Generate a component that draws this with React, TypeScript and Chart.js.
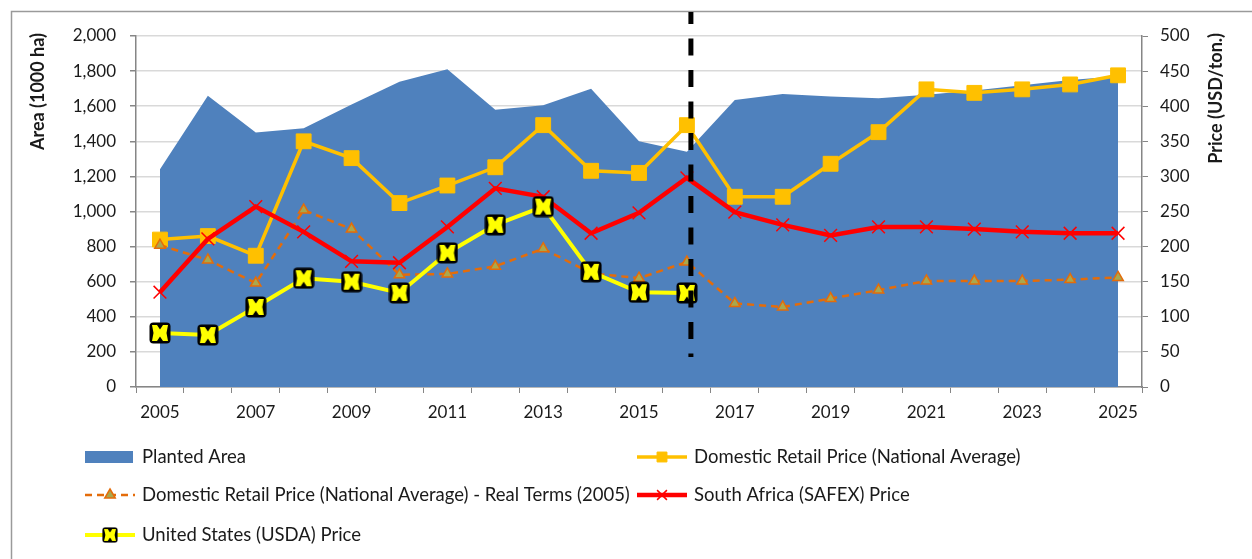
import React, { useEffect, useRef } from "react";
import { Chart, registerables } from "chart.js";

Chart.register(...registerables);

const years = [
  "2005", "2006", "2007", "2008", "2009", "2010", "2011", "2012", "2013", "2014",
  "2015", "2016", "2017", "2018", "2019", "2020", "2021", "2022", "2023", "2024", "2025",
];
const plantedArea = [1240, 1660, 1450, 1475, 1610, 1740, 1810, 1580, 1605, 1700, 1400, 1340, 1635, 1670, 1655, 1645, 1665, 1690, 1720, 1750, 1770];
const domesticRetail = [210, 215, 187, 350, 326, 262, 287, 313, 373, 308, 305, 373, 271, 271, 318, 363, 424, 419, 424, 431, 444];
const realTerms = [202, 181, 148, 252, 225, 160, 161, 172, 197, 162, 155, 178, 119, 114, 126, 138, 151, 151, 151, 153, 156];
const safex = [135, 211, 257, 221, 179, 177, 228, 283, 271, 219, 248, 298, 249, 231, 216, 228, 228, 225, 221, 219, 219];
const usda = [77, 74, 114, 155, 150, 134, 191, 231, 257, 164, 135, 134, null, null, null, null, null, null, null, null, null];
const dividerYear = "2016";

const FONT = "Lato, 'Open Sans', sans-serif";
const TEXT = "#1a1a1a";
const AXIS = "#868686";
const GRID = "#D9D9D9";

function makeUsdaMarker(): HTMLCanvasElement {
  const c = document.createElement("canvas");
  c.width = 22;
  c.height = 22;
  const g = c.getContext("2d")!;
  g.fillStyle = "#000";
  g.beginPath();
  (g as any).roundRect(0.5, 0.5, 21, 21, 4);
  g.fill();
  g.fillStyle = "#FFFF00";
  g.beginPath();
  g.moveTo(3, 3);
  g.lineTo(8, 3);
  g.lineTo(11, 7.5);
  g.lineTo(14, 3);
  g.lineTo(19, 3);
  g.lineTo(17.5, 11);
  g.lineTo(19, 19);
  g.lineTo(14, 19);
  g.lineTo(11, 14.5);
  g.lineTo(8, 19);
  g.lineTo(3, 19);
  g.lineTo(4.5, 11);
  g.closePath();
  g.fill();
  return c;
}

function drawMarker(ctx: CanvasRenderingContext2D, style: string, x: number, y: number, r: number) {
  ctx.beginPath();
  if (style === "rect") {
    const s = Math.SQRT1_2 * r;
    ctx.rect(x - s, y - s, 2 * s, 2 * s);
    ctx.fill();
    ctx.stroke();
  } else if (style === "triangle") {
    ctx.moveTo(x, y - r);
    ctx.lineTo(x + r * 0.87, y + r * 0.5);
    ctx.lineTo(x - r * 0.87, y + r * 0.5);
    ctx.closePath();
    ctx.fill();
    ctx.stroke();
  } else if (style === "crossRot") {
    const s = r * 0.7;
    ctx.moveTo(x - s, y - s);
    ctx.lineTo(x + s, y + s);
    ctx.moveTo(x + s, y - s);
    ctx.lineTo(x - s, y + s);
    ctx.stroke();
  }
}

export default function App() {
  const ref = useRef<HTMLCanvasElement | null>(null);

  useEffect(() => {
    document.body.style.margin = "0";
    const usdaMarker = makeUsdaMarker();

    const decorations = {
      id: "decorations",
      afterDraw(chart: any) {
        const ctx = chart.ctx as CanvasRenderingContext2D;
        const area = chart.chartArea;
        const xs = chart.scales.x;
        ctx.save();
        // outer frame
        ctx.strokeStyle = "#9a9a9a";
        ctx.lineWidth = 1.5;
        ctx.beginPath();
        ctx.moveTo(11.5, chart.height + 5);
        ctx.lineTo(11.5, 11.5);
        ctx.lineTo(chart.width + 5, 11.5);
        ctx.stroke();

        // divider dashed line
        const dx = xs.getPixelForValue(years.indexOf(dividerYear)) + 4;
        ctx.save();
        ctx.beginPath();
        ctx.rect(0, 12, chart.width, chart.height);
        ctx.clip();
        ctx.strokeStyle = "#000";
        ctx.lineWidth = 5;
        ctx.setLineDash([17, 14.5]);
        ctx.lineDashOffset = 5;
        ctx.beginPath();
        ctx.moveTo(dx, 12);
        ctx.lineTo(dx, area.bottom - 30);
        ctx.stroke();
        ctx.restore();

        // axis titles
        ctx.fillStyle = TEXT;
        ctx.font = `bold 18px ${FONT}`;
        ctx.textBaseline = "middle";
        ctx.textAlign = "right";
        ctx.save();
        ctx.translate(38, area.top - 3);
        ctx.rotate(-Math.PI / 2);
        ctx.fillText("Area (1000 ha)", 0, 0);
        ctx.restore();
        ctx.save();
        ctx.translate(1216, area.top - 3);
        ctx.rotate(-Math.PI / 2);
        ctx.fillText("Price (USD/ton.)", 0, 0);
        ctx.restore();

        // legend
        const cols = [85, 637];
        const rows = [457, 495, 535];
        const slots = [
          [0, 0],
          [1, 0],
          [0, 1],
          [1, 1],
          [0, 2],
        ];
        const symW = 50;
        chart.data.datasets.forEach((ds: any, i: number) => {
          const [c, r] = slots[i];
          const x0 = cols[c];
          const y = rows[r];
          const mid = x0 + symW / 2;
          if (ds.fill) {
            ctx.fillStyle = ds.backgroundColor;
            ctx.fillRect(x0, y - 6, symW - 2, 12);
          } else {
            ctx.save();
            ctx.strokeStyle = ds.borderColor;
            ctx.lineWidth = ds.borderWidth;
            ctx.setLineDash(ds.borderDash || []);
            ctx.beginPath();
            ctx.moveTo(x0, y);
            ctx.lineTo(x0 + symW, y);
            ctx.stroke();
            ctx.restore();
            const style = ds.pointStyle;
            if (style instanceof HTMLCanvasElement) {
              ctx.drawImage(style, mid - 8, y - 8, 16, 16);
            } else {
              ctx.save();
              ctx.fillStyle = ds.pointBackgroundColor;
              ctx.strokeStyle = ds.pointBorderColor;
              ctx.lineWidth = ds.pointBorderWidth;
              drawMarker(ctx, style, mid, y, Math.min(ds.pointRadius, 7));
              ctx.restore();
            }
          }
          ctx.fillStyle = TEXT;
          ctx.font = `18.5px ${FONT}`;
          ctx.textAlign = "left";
          ctx.textBaseline = "middle";
          ctx.fillText(ds.label, x0 + symW + 7, y);
        });
        ctx.restore();
      },
    };

    const chart = new Chart(ref.current!, {
      type: "line",
      data: {
        labels: years,
        datasets: [
          {
            label: "Planted Area",
            data: plantedArea,
            yAxisID: "y",
            fill: "origin",
            backgroundColor: "#4F81BD",
            borderColor: "#4F81BD",
            borderWidth: 0,
            pointRadius: 0,
            tension: 0,
            order: 5,
          } as any,
          {
            label: "Domestic Retail Price (National Average)",
            data: domesticRetail,
            yAxisID: "y1",
            fill: false,
            borderColor: "#FFC000",
            backgroundColor: "#FFC000",
            borderWidth: 3.5,
            pointStyle: "rect",
            pointRadius: 10.5,
            pointBackgroundColor: "#FFC000",
            pointBorderColor: "#FFC000",
            pointBorderWidth: 1,
            order: 4,
          },
          {
            label: "Domestic Retail Price (National Average) - Real Terms (2005)",
            data: realTerms,
            yAxisID: "y1",
            fill: false,
            borderColor: "#E46C0A",
            backgroundColor: "#E46C0A",
            borderWidth: 2.5,
            borderDash: [7, 5],
            pointStyle: "triangle",
            pointRadius: 6,
            pointBackgroundColor: "#A9A84E",
            pointBorderColor: "#E46C0A",
            pointBorderWidth: 1.5,
            order: 3,
          },
          {
            label: "South Africa (SAFEX) Price",
            data: safex,
            yAxisID: "y1",
            fill: false,
            borderColor: "#FF0000",
            backgroundColor: "#FF0000",
            borderWidth: 4.5,
            pointStyle: "crossRot",
            pointRadius: 9,
            pointBackgroundColor: "#FF0000",
            pointBorderColor: "#FF0000",
            pointBorderWidth: 1.5,
            order: 2,
          },
          {
            label: "United States (USDA) Price",
            data: usda,
            yAxisID: "y1",
            fill: false,
            borderColor: "#FFFF00",
            backgroundColor: "#FFFF00",
            borderWidth: 4,
            pointStyle: usdaMarker as any,
            pointRadius: 11,
            order: 1,
          },
        ],
      },
      options: {
        responsive: false,
        animation: false,
        devicePixelRatio: 1,
        layout: { padding: { top: 36, left: 0, right: 0, bottom: 0 } },
        plugins: {
          legend: { display: false },
          tooltip: { enabled: false },
        },
        scales: {
          x: {
            type: "category",
            offset: true,
            grid: {
              offset: true,
              drawOnChartArea: false,
              drawTicks: true,
              tickLength: 6,
              tickColor: AXIS,
              color: AXIS,
            },
            border: { display: true, color: AXIS, width: 1.5 },
            ticks: {
              autoSkip: false,
              maxRotation: 0,
              minRotation: 0,
              padding: 9,
              color: TEXT,
              font: { family: FONT, size: 17 },
              callback: (_v: any, i: number) => (i % 2 === 0 ? years[i] : ""),
            },
            afterFit: (s: any) => {
              s.height = 172;
            },
          },
          y: {
            position: "left",
            min: 0,
            max: 2000,
            grid: {
              color: GRID,
              lineWidth: 1.5,
              tickLength: 6,
              tickColor: AXIS,
            },
            border: { display: true, color: AXIS, width: 1.5 },
            ticks: {
              stepSize: 200,
              padding: 14,
              color: TEXT,
              font: { family: FONT, size: 17 },
              callback: (v: any) => Number(v).toLocaleString("en-US"),
            },
            afterFit: (s: any) => {
              s.width = 136;
            },
          },
          y1: {
            position: "right",
            min: 0,
            max: 500,
            grid: {
              drawOnChartArea: false,
              tickLength: 6,
              tickColor: AXIS,
              color: AXIS,
            },
            border: { display: true, color: AXIS, width: 1.5 },
            ticks: {
              stepSize: 50,
              padding: 12,
              color: TEXT,
              font: { family: FONT, size: 17 },
            },
            afterFit: (s: any) => {
              s.width = 110;
            },
          },
        },
      },
      plugins: [decorations],
    });

    return () => chart.destroy();
  }, []);

  return (
    <div style={{ position: "fixed", left: 0, top: 0, width: 1252, height: 559, background: "#fff" }}>
      <canvas ref={ref} width={1252} height={559} style={{ display: "block" }} />
    </div>
  );
}
